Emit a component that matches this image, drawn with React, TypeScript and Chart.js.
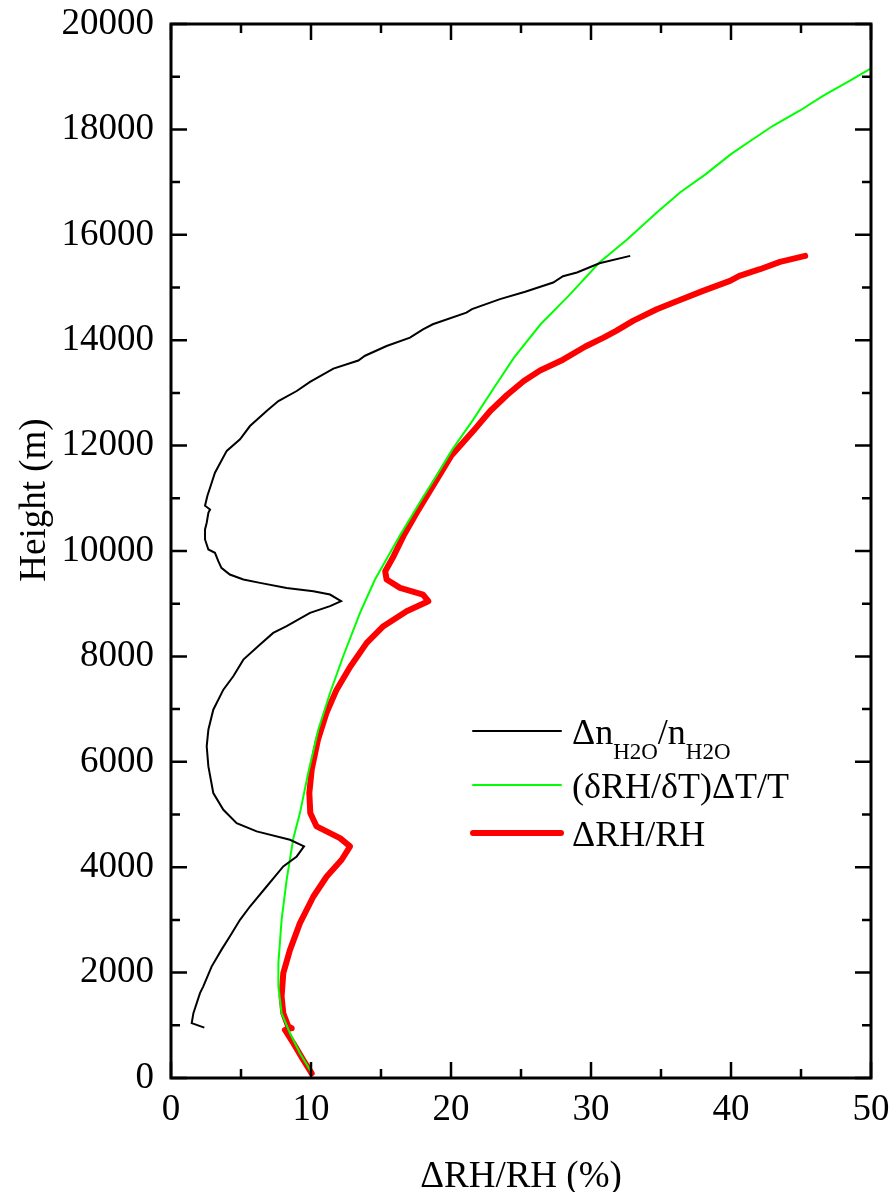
import React, { useEffect, useRef } from "react";
import { Chart, registerables } from "chart.js";

Chart.register(...registerables);

// ---- Data (x = ΔRH/RH %, h = height m) ----
const nH2O_x = [2.38, 1.48, 1.6, 2.07, 2.3, 2.9, 3.6, 4.2, 4.93, 5.64, 6.83, 7.43, 8.02, 8.98, 9.5, 8.5, 6.12, 4.69, 3.74, 3.02, 2.67, 2.55, 2.67, 3.02, 3.74, 4.45, 5.17, 6.36, 7.3, 8.26, 9.93, 11.36, 12.15, 11.36, 10.17, 8.26, 6.36, 5.17, 4.2, 3.6, 3.38, 3.14, 2.67, 2.43, 2.43, 2.55, 2.67, 2.79, 2.43, 2.6, 2.79, 3.14, 3.98, 4.93, 5.64, 6.83, 7.67, 8.98, 9.93, 11.6, 13.38, 13.86, 15.4, 17.07, 18.0, 18.7, 21.1, 21.5, 23.5, 25.3, 27.3, 28.0, 29.0, 30.6, 32.8];
const nH2O_h = [955, 1040, 1230, 1610, 1735, 2114, 2431, 2684, 3001, 3254, 3634, 3824, 4014, 4204, 4394, 4520, 4679, 4837, 5090, 5407, 5913, 6293, 6610, 6989, 7369, 7623, 7939, 8224, 8446, 8573, 8826, 8953, 9047, 9174, 9237, 9300, 9395, 9459, 9554, 9680, 9807, 9966, 10029, 10219, 10409, 10536, 10726, 10788, 10860, 11050, 11200, 11485, 11900, 12118, 12371, 12656, 12846, 13036, 13208, 13460, 13615, 13705, 13890, 14048, 14207, 14302, 14523, 14590, 14780, 14920, 15094, 15215, 15284, 15460, 15600];

const tempTerm_x = [10.05, 9.21, 8.5, 7.9, 7.67, 7.67, 7.9, 8.26, 8.74, 9.21, 9.8, 10.52, 11.36, 12.3, 13.5, 14.57, 16.36, 17.9, 18.9, 20.1, 21.6, 23.0, 24.5, 26.4, 28.4, 30.6, 32.6, 34.7, 36.36, 38.2, 40.0, 41.4, 43.0, 44.9, 46.6, 48.5, 50.0];
const tempTerm_h = [100, 469, 849, 1229, 1735, 2178, 3001, 3761, 4550, 5027, 5787, 6610, 7306, 8003, 8826, 9459, 10300, 10978, 11400, 11928, 12498, 13068, 13669, 14302, 14840, 15474, 15916, 16423, 16803, 17151, 17531, 17784, 18069, 18354, 18639, 18924, 19160];

const rh_x = [10.05, 9.45, 8.74, 8.14, 8.62, 8.38, 8.02, 7.9, 8.02, 8.5, 9.21, 10.17, 11.12, 12.19, 12.79, 12.07, 10.4, 9.95, 9.88, 10.05, 10.5, 11.1, 11.83, 12.79, 13.98, 15.17, 16.83, 18.38, 18.0, 16.36, 15.4, 15.3, 15.9, 16.6, 17.55, 18.7, 20.0, 21.6, 22.8, 24.0, 25.2, 26.36, 28.0, 29.6, 30.9, 31.8, 33.0, 34.7, 35.9, 38.0, 39.93, 40.6, 42.07, 43.5, 45.3];
const rh_h = [89, 342, 659, 912, 945, 976, 1229, 1546, 1989, 2431, 2938, 3444, 3824, 4141, 4394, 4552, 4774, 5027, 5407, 5850, 6420, 6926, 7369, 7800, 8256, 8573, 8858, 9047, 9174, 9300, 9459, 9617, 9902, 10282, 10725, 11231, 11801, 12280, 12656, 12960, 13226, 13425, 13630, 13880, 14048, 14176, 14366, 14587, 14714, 14936, 15126, 15221, 15347, 15486, 15600];

const xTicks = [0, 10, 20, 30, 40, 50];
const yTicks = [0, 2000, 4000, 6000, 8000, 10000, 12000, 14000, 16000, 18000, 20000];
const xTitle = "ΔRH/RH (%)";
const yTitle = "Height (m)";
// legend entries: array of [text, isSubscript] parts
const legendNH2O: [string, boolean][] = [["Δn", false], ["H2O", true], ["/n", false], ["H2O", true]];
const legendTemp: [string, boolean][] = [["(δRH/δT)ΔT/T", false]];
const legendRH: [string, boolean][] = [["ΔRH/RH", false]];

const FONT = "'Liberation Serif', 'Times New Roman', serif";

const toPts = (xs: number[], hs: number[]) => xs.map((x, i) => ({ x, y: hs[i] }));

const framePlugin = {
  id: "frame",
  afterDraw(chart: any) {
    const { ctx, chartArea } = chart;
    const { left, right, top, bottom } = chartArea;
    const xs = chart.scales.x;
    const ys = chart.scales.y;
    ctx.save();
    ctx.strokeStyle = "#000";
    ctx.lineCap = "butt";
    // ticks
    ctx.lineWidth = 2.5;
    ctx.beginPath();
    for (let v = 0; v <= 50; v += 5) {
      const p = xs.getPixelForValue(v);
      const len = v % 10 === 0 ? 16 : 9;
      ctx.moveTo(p, bottom);
      ctx.lineTo(p, bottom - len);
      ctx.moveTo(p, top);
      ctx.lineTo(p, top + len);
    }
    for (let v = 0; v <= 20000; v += 1000) {
      const p = ys.getPixelForValue(v);
      const len = v % 2000 === 0 ? 16 : 9;
      ctx.moveTo(left, p);
      ctx.lineTo(left + len, p);
      ctx.moveTo(right, p);
      ctx.lineTo(right - len, p);
    }
    ctx.stroke();
    // frame
    ctx.lineWidth = 3;
    ctx.strokeRect(left, top, right - left, bottom - top);

    // axis titles
    ctx.fillStyle = "#000";
    ctx.font = `37px ${FONT}`;
    ctx.textAlign = "center";
    ctx.textBaseline = "alphabetic";
    ctx.fillText(xTitle, (left + right) / 2, 1187);
    ctx.save();
    ctx.translate(45, 500);
    ctx.rotate(-Math.PI / 2);
    ctx.fillText(yTitle, 0, 0);
    ctx.restore();

    // legend
    const entries = [
      { parts: legendNH2O, color: "#000000", width: 2, y: 731 },
      { parts: legendTemp, color: "#00ff00", width: 2, y: 785 },
      { parts: legendRH, color: "#ff0000", width: 6, y: 833 },
    ];
    ctx.textAlign = "left";
    entries.forEach((e) => {
      ctx.strokeStyle = e.color;
      ctx.lineWidth = e.width;
      ctx.lineCap = "round";
      ctx.beginPath();
      ctx.moveTo(473, e.y);
      ctx.lineTo(561, e.y);
      ctx.stroke();
      let tx = 572;
      const base = e.y + 13;
      e.parts.forEach(([t, sub]) => {
        ctx.font = sub ? `23px ${FONT}` : `36px ${FONT}`;
        ctx.fillText(t, tx, sub ? base + 15 : base);
        tx += ctx.measureText(t).width;
      });
    });
    ctx.restore();
  },
};

export default function App() {
  const ref = useRef<HTMLCanvasElement>(null);
  useEffect(() => {
    if (!ref.current) return;
    const chart = new Chart(ref.current, {
      type: "line",
      data: {
        datasets: [
          {
            label: "Δn_H2O/n_H2O",
            data: toPts(nH2O_x, nH2O_h),
            borderColor: "#000000",
            borderWidth: 2,
            pointRadius: 0,
            tension: 0,
            order: 0,
          },
          {
            label: "(δRH/δT)ΔT/T",
            data: toPts(tempTerm_x, tempTerm_h),
            borderColor: "#00ff00",
            borderWidth: 2,
            pointRadius: 0,
            tension: 0,
            order: 1,
          },
          {
            label: "ΔRH/RH",
            data: toPts(rh_x, rh_h),
            borderColor: "#ff0000",
            borderWidth: 6,
            pointRadius: 0,
            tension: 0,
            borderJoinStyle: "round",
            borderCapStyle: "round",
            order: 2,
          },
        ],
      },
      options: {
        responsive: false,
        animation: false,
        devicePixelRatio: 1,
        layout: { padding: { top: 24, right: 19, left: 0, bottom: 0 } },
        plugins: { legend: { display: false }, tooltip: { enabled: false } },
        scales: {
          x: {
            type: "linear",
            min: 0,
            max: 50,
            afterBuildTicks: (s: any) => {
              s.ticks = xTicks.map((v) => ({ value: v }));
            },
            ticks: {
              font: { family: FONT, size: 37 },
              color: "#000",
              padding: 10,
              maxRotation: 0,
              callback: (v: any) => String(v),
            },
            grid: { display: false, drawTicks: false },
            border: { display: false },
            afterFit: (s: any) => {
              s.height = 114;
              s.paddingLeft = 0;
              s.paddingRight = 0;
            },
          },
          y: {
            type: "linear",
            min: 0,
            max: 20000,
            afterBuildTicks: (s: any) => {
              s.ticks = yTicks.map((v) => ({ value: v }));
            },
            ticks: {
              font: { family: FONT, size: 37 },
              color: "#000",
              padding: 17,
              callback: (v: any) => String(v),
            },
            grid: { display: false, drawTicks: false },
            border: { display: false },
            afterFit: (s: any) => {
              s.width = 171;
              s.paddingTop = 0;
              s.paddingBottom = 0;
            },
          },
        },
      },
      plugins: [framePlugin],
    });
    return () => chart.destroy();
  }, []);
  return (
    <div style={{ position: "absolute", left: 0, top: 0, width: 890, height: 1192, background: "#fff" }}>
      <canvas ref={ref} width={890} height={1192} style={{ width: 890, height: 1192 }} />
    </div>
  );
}
